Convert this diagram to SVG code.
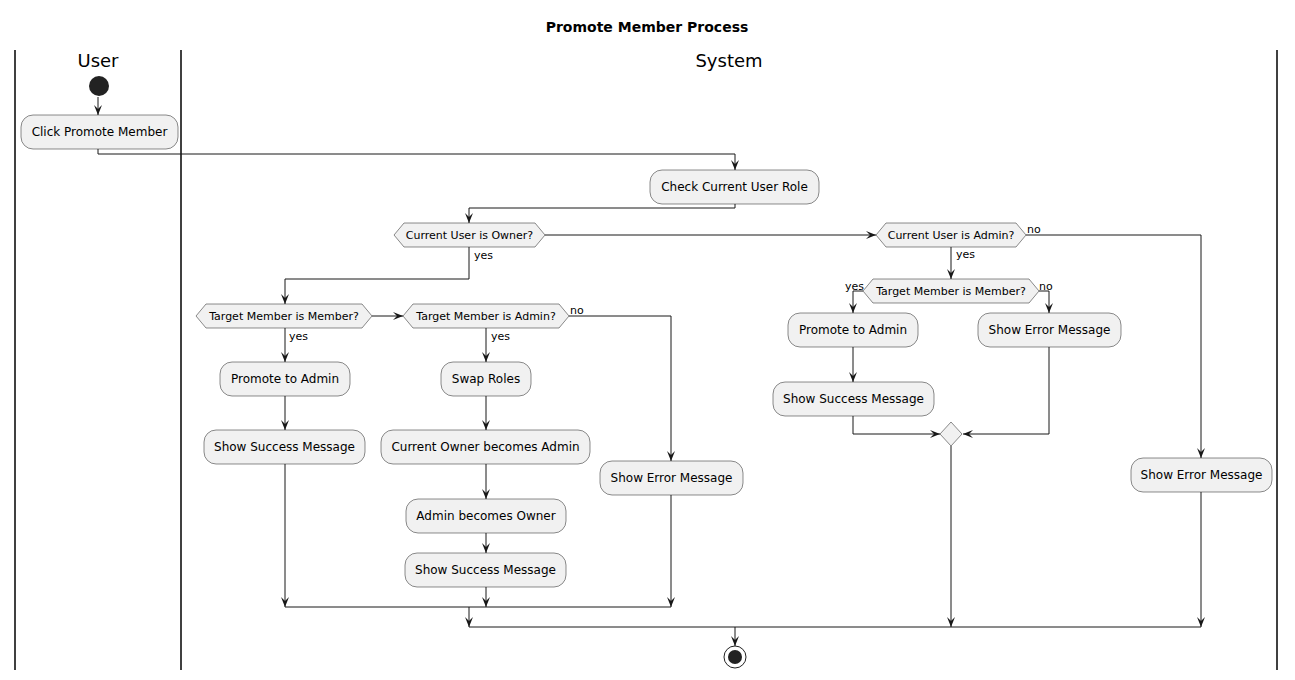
<svg xmlns="http://www.w3.org/2000/svg" width="1295" height="680" viewBox="0 0 1295 680">
<style>
.t{font-family:"DejaVu Sans",sans-serif;font-size:12px;fill:#000;text-anchor:middle}
.d{font-family:"DejaVu Sans",sans-serif;font-size:11px;fill:#000;text-anchor:middle}
.l{font-family:"DejaVu Sans",sans-serif;font-size:11px;fill:#000}
.a{fill:#F1F1F1;stroke:#181818;stroke-width:0.5}
.c{fill:none;stroke:#181818;stroke-width:1}
.lane{stroke:#000;stroke-width:1.5}
.h{font-family:"DejaVu Sans",sans-serif;font-size:18px;fill:#000;text-anchor:middle}
</style>
<defs>
<marker id="ar" markerUnits="userSpaceOnUse" markerWidth="10" markerHeight="10" refX="10" refY="5" orient="auto" viewBox="0 0 10 10">
<path d="M0,1 L10,5 L0,9 L4,5 Z" fill="#181818"/>
</marker>
</defs>
<rect width="1295" height="680" fill="#fff"/>
<text x="647" y="32" style="font-family:'DejaVu Sans',sans-serif;font-size:14px;font-weight:bold;text-anchor:middle">Promote Member Process</text>
<g id="lanes">
<line class="lane" x1="15" y1="50" x2="15" y2="670"/>
<line class="lane" x1="181" y1="50" x2="181" y2="670"/>
<line class="lane" x1="1277" y1="50" x2="1277" y2="670"/>
<text class="h" x="98" y="67">User</text>
<text class="h" x="729" y="67">System</text>
</g>
<g id="connectors">
<path class="c" d="M98,97 L98,115" marker-end="url(#ar)"/>
<path class="c" d="M98,149 L98,154 L735,154 L735,170" marker-end="url(#ar)"/>
<path class="c" d="M735,204 L735,208 L469,208 L469,223" marker-end="url(#ar)"/>
<path class="c" d="M469,247 L469,279 L285,279 L285,304" marker-end="url(#ar)"/>
<path class="c" d="M545,235 L876,235" marker-end="url(#ar)"/>
<path class="c" d="M372,316 L403,316" marker-end="url(#ar)"/>
<path class="c" d="M569,316 L671,316 L671,461" marker-end="url(#ar)"/>
<path class="c" d="M285,328 L285,362" marker-end="url(#ar)"/>
<path class="c" d="M285,396 L285,430" marker-end="url(#ar)"/>
<path class="c" d="M285,464 L285,607" marker-end="url(#ar)"/>
<path class="c" d="M486,328 L486,362" marker-end="url(#ar)"/>
<path class="c" d="M486,396 L486,430" marker-end="url(#ar)"/>
<path class="c" d="M486,464 L486,499" marker-end="url(#ar)"/>
<path class="c" d="M486,533 L486,553" marker-end="url(#ar)"/>
<path class="c" d="M486,587 L486,607" marker-end="url(#ar)"/>
<path class="c" d="M671,495 L671,607" marker-end="url(#ar)"/>
<path class="c" d="M285,607 L671,607"/>
<path class="c" d="M469,607 L469,627" marker-end="url(#ar)"/>
<path class="c" d="M951,247 L951,279" marker-end="url(#ar)"/>
<path class="c" d="M863,291 L853,291 L853,313" marker-end="url(#ar)"/>
<path class="c" d="M1039,291 L1049,291 L1049,313" marker-end="url(#ar)"/>
<path class="c" d="M853,347 L853,382" marker-end="url(#ar)"/>
<path class="c" d="M853,416 L853,434 L940,434" marker-end="url(#ar)"/>
<path class="c" d="M1049,347 L1049,434 L963,434" marker-end="url(#ar)"/>
<path class="c" d="M951,446 L951,627" marker-end="url(#ar)"/>
<path class="c" d="M1026,235 L1201,235 L1201,458" marker-end="url(#ar)"/>
<path class="c" d="M1201,492 L1201,627" marker-end="url(#ar)"/>
<path class="c" d="M469,627 L1201,627"/>
<path class="c" d="M735,627 L735,646" marker-end="url(#ar)"/>
<text class="l" x="474" y="259">yes</text>
<text class="l" x="289" y="340">yes</text>
<text class="l" x="491" y="340">yes</text>
<text class="l" x="570" y="314">no</text>
<text class="l" x="1027" y="233">no</text>
<text class="l" x="956" y="258">yes</text>
<text class="l" x="845" y="290">yes</text>
<text class="l" x="1039" y="290">no</text>
</g>
<g id="start"><circle cx="99" cy="86" r="10" fill="#222"/></g>
<g id="clickPromote"><rect class="a" x="21" y="115" width="157" height="34" rx="12"/><text class="t" x="99.5" y="136">Click Promote Member</text></g>
<g id="checkRole"><rect class="a" x="650" y="170" width="169" height="34" rx="12"/><text class="t" x="734.5" y="191">Check Current User Role</text></g>
<g id="decOwner"><polygon class="a" points="394,235 404,223 535,223 545,235 535,247 404,247"/><text class="d" x="469.5" y="239">Current User is Owner?</text></g>
<g id="decMemberL"><polygon class="a" points="196,316 206,304 362,304 372,316 362,328 206,328"/><text class="d" x="284" y="320">Target Member is Member?</text></g>
<g id="decAdminL"><polygon class="a" points="403,316 413,304 559,304 569,316 559,328 413,328"/><text class="d" x="486" y="320">Target Member is Admin?</text></g>
<g id="promoteL"><rect class="a" x="220" y="362" width="130" height="34" rx="12"/><text class="t" x="285" y="383">Promote to Admin</text></g>
<g id="successL"><rect class="a" x="204" y="430" width="161" height="34" rx="12"/><text class="t" x="284.5" y="451">Show Success Message</text></g>
<g id="swap"><rect class="a" x="441" y="362" width="90" height="34" rx="12"/><text class="t" x="486" y="383">Swap Roles</text></g>
<g id="ownerAdmin"><rect class="a" x="381" y="430" width="209" height="34" rx="12"/><text class="t" x="485.5" y="451">Current Owner becomes Admin</text></g>
<g id="adminOwner"><rect class="a" x="406" y="499" width="160" height="34" rx="12"/><text class="t" x="486" y="520">Admin becomes Owner</text></g>
<g id="successM"><rect class="a" x="405" y="553" width="161" height="34" rx="12"/><text class="t" x="485.5" y="574">Show Success Message</text></g>
<g id="errorL"><rect class="a" x="600" y="461" width="143" height="34" rx="12"/><text class="t" x="671.5" y="482">Show Error Message</text></g>
<g id="decAdminR"><polygon class="a" points="876,235 886,223 1016,223 1026,235 1016,247 886,247"/><text class="d" x="951" y="239">Current User is Admin?</text></g>
<g id="decMemberR"><polygon class="a" points="863,291 873,279 1029,279 1039,291 1029,303 873,303"/><text class="d" x="951" y="295">Target Member is Member?</text></g>
<g id="promoteR"><rect class="a" x="788" y="313" width="130" height="34" rx="12"/><text class="t" x="853" y="334">Promote to Admin</text></g>
<g id="successR"><rect class="a" x="773" y="382" width="161" height="34" rx="12"/><text class="t" x="853.5" y="403">Show Success Message</text></g>
<g id="errorRM"><rect class="a" x="978" y="313" width="143" height="34" rx="12"/><text class="t" x="1049.5" y="334">Show Error Message</text></g>
<g id="merge"><polygon class="a" points="940,434 951,422 962,434 951,446"/></g>
<g id="errorR"><rect class="a" x="1131" y="458" width="141" height="34" rx="12"/><text class="t" x="1201.5" y="479">Show Error Message</text></g>
<g id="stop"><circle cx="735" cy="657" r="11" fill="none" stroke="#222" stroke-width="1"/><circle cx="735" cy="657" r="7" fill="#222"/></g>
</svg>
